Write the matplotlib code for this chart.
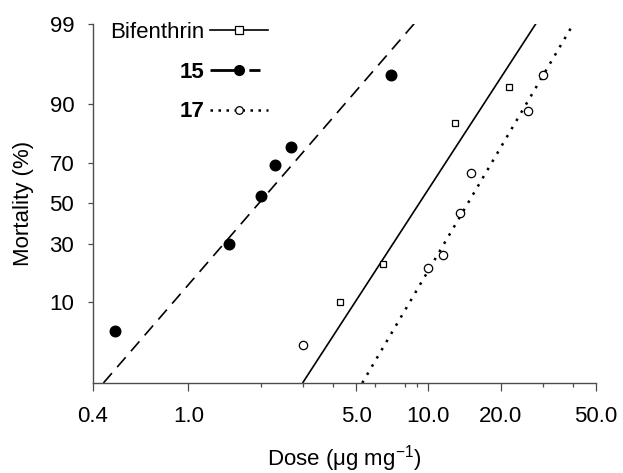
import numpy as np
import matplotlib
matplotlib.use("Agg")
import matplotlib.pyplot as plt
from matplotlib.ticker import FixedLocator, FixedFormatter, NullFormatter
from matplotlib.legend_handler import HandlerLine2D
from statistics import NormalDist

plt.rcParams['font.family'] = ['Liberation Sans', 'DejaVu Sans']
plt.rcParams['mathtext.fontset'] = 'custom'
plt.rcParams['mathtext.rm'] = 'Liberation Sans'
plt.rcParams['mathtext.it'] = 'Liberation Sans:italic'

# observed mortality (%) vs dose (ug/mg)
bif_dose = [4.28, 6.44, 12.9, 21.6]
bif_mort = [10.0, 21.6, 85.1, 93.4]
c15_dose = [0.495, 1.48, 2.0, 2.30, 2.68, 6.98]
c15_mort = [4.9, 30.0, 53.6, 69.1, 76.8, 95.1]
c17_dose = [2.99, 9.97, 11.5, 13.6, 15.0, 26.1, 30.2]
c17_mort = [3.3, 20.0, 25.2, 45.2, 65.2, 88.5, 95.1]

# fitted probit lines (end points)
fit_mort = [1.0, 99.0]
bif_fit_dose = [2.99, 28.1]
c15_fit_dose = [0.442, 8.74]
c17_fit_dose = [5.3, 40.3]

xticks = [0.4, 1.0, 5.0, 10.0, 20.0, 50.0]
xtick_labels = ['0.4', '1.0', '5.0', '10.0', '20.0', '50.0']
xminor = [2, 3, 4, 6, 8, 9, 30, 40]
yticks = [10, 30, 50, 70, 90, 99]

_nd = NormalDist()
_inv = np.vectorize(_nd.inv_cdf, otypes=[float])
_cdf = np.vectorize(_nd.cdf, otypes=[float])


def probit(p):
    p = np.clip(np.asarray(p, dtype=float) / 100.0, 1e-9, 1 - 1e-9)
    return _inv(p)


def inv_probit(z):
    return 100.0 * _cdf(np.asarray(z, dtype=float))


class LeftMarker(HandlerLine2D):
    def get_xdata(self, legend, xdescent, ydescent, width, height, fontsize):
        xdata, xm = super().get_xdata(legend, xdescent, ydescent, width, height, fontsize)
        return xdata, np.array([-xdescent + 0.38 * width])


fig = plt.figure(figsize=(6.23, 4.73), dpi=100)
ax = fig.add_axes([0.1493, 0.1903, 0.8074, 0.7600])
ax.set_xscale('log')
ax.set_yscale('function', functions=(probit, inv_probit))

lw = 1.2
ax.plot(bif_fit_dose, fit_mort, color='black', lw=lw, solid_capstyle='butt')
ax.plot(c15_fit_dose, fit_mort, color='black', lw=lw, dashes=(7.8, 4.8))
ax.plot(c17_fit_dose, fit_mort, color='black', lw=1.8, dashes=(1.0, 2.8))

ax.plot(bif_dose, bif_mort, 's', ms=5.0, mfc='white', mec='black', mew=0.9)
ax.plot(c15_dose, c15_mort, 'o', ms=7.6, mfc='black', mec='black')
ax.plot(c17_dose, c17_mort, 'o', ms=6.0, mfc='white', mec='black', mew=0.9)

# legend handles
h1, = ax.plot([], [], color='black', lw=lw, marker='s', ms=5.5, mfc='white', mec='black', mew=0.9)
h2, = ax.plot([], [], color='black', lw=2.0, dashes=(10.5, 3.5, 4.0, 3.5), marker='o', ms=7.0, mfc='black')
h3, = ax.plot([], [], color='black', lw=1.8, dashes=(1.0, 2.2), marker='o', ms=5.5, mfc='white', mew=0.9)
leg = ax.legend([h1, h2, h3], ['Bifenthrin', '15', '17'], loc='upper right',
                bbox_to_anchor=(268 / 623, 1 - 22 / 473), bbox_transform=fig.transFigure,
                frameon=False, markerfirst=False, numpoints=1, fontsize=16,
                handlelength=2.6, handletextpad=0.27, labelspacing=0.84, borderpad=0,
                borderaxespad=0,
                handler_map={h1: LeftMarker(), h2: LeftMarker(), h3: LeftMarker()})
for t in leg.get_texts()[1:]:
    t.set_fontweight('bold')

ax.set_xlim(0.4, 50)
ax.set_ylim(1, 99)
ax.xaxis.set_major_locator(FixedLocator(xticks))
ax.xaxis.set_major_formatter(FixedFormatter(xtick_labels))
ax.xaxis.set_minor_locator(FixedLocator(xminor))
ax.xaxis.set_minor_formatter(NullFormatter())
ax.yaxis.set_major_locator(FixedLocator(yticks))
ax.yaxis.set_major_formatter(FixedFormatter([str(v) for v in yticks]))
ax.yaxis.set_minor_locator(FixedLocator([]))

for s in ['top', 'right']:
    ax.spines[s].set_visible(False)
for s in ['left', 'bottom']:
    ax.spines[s].set_color('#4d4d4d')
    ax.spines[s].set_linewidth(1.0)

ax.tick_params(axis='x', which='major', direction='out', length=5.8, width=0.9,
               color='#4d4d4d', labelsize=16, pad=10.5)
ax.tick_params(axis='x', which='minor', direction='out', length=3.2, width=0.9, color='#4d4d4d')
ax.tick_params(axis='y', which='major', direction='out', length=3.6, width=0.9,
               color='#4d4d4d', labelsize=16, pad=10)

ax.set_xlabel('Dose (μg mg$^{-1}$)', fontsize=16, labelpad=12)
ax.set_ylabel('Mortality (%)', fontsize=16, labelpad=11)

fig.savefig('out.png', dpi=100)
